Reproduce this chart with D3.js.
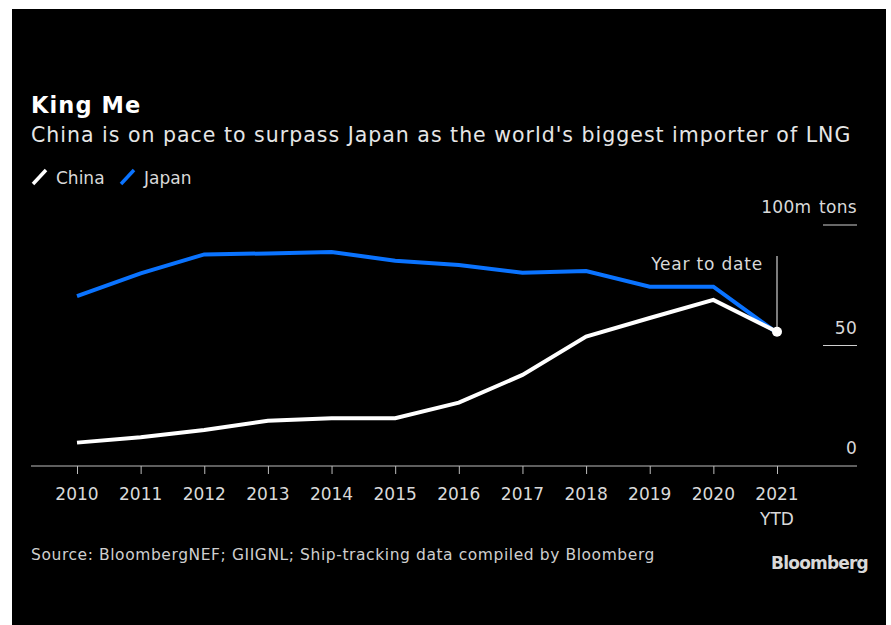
<!DOCTYPE html>
<html>
<head>
<meta charset="utf-8">
<script src="https://cdn.jsdelivr.net/npm/d3@7"></script>
<style>
  body { margin: 0; background: #fff; }
  text { font-family: "DejaVu Sans", sans-serif; }
</style>
</head>
<body>
<div id="chart"></div>
<script>
// Data (100m tons = 100 on the axis, values in m tons)
var years = ['2010', '2011', '2012', '2013', '2014', '2015', '2016', '2017', '2018', '2019', '2020', '2021'];
var yearLabels = ['2010', '2011', '2012', '2013', '2014', '2015', '2016', '2017', '2018', '2019', '2020', '2021\nYTD'];
var chinaValues = [9.7, 11.9, 14.9, 18.8, 19.8, 19.8, 26.3, 37.8, 53.7, 61.4, 68.9, 55.7];
var japanValues = [70.5, 79.9, 87.8, 88.2, 88.8, 85.2, 83.4, 80.2, 80.9, 74.4, 74.4, 55.2];
var yTicks = [0, 50, 100];
var yTickLabels = ['0', '50', '100m tons'];

var W = 891, H = 625;

var svg = d3.select('#chart')
  .append('svg')
  .attr('width', W)
  .attr('height', H);

// black panel
svg.append('rect')
  .attr('x', 12).attr('y', 9)
  .attr('width', 874).attr('height', H - 9)
  .style('fill', '#000');

// scales
var x = d3.scalePoint()
  .domain(years)
  .range([77, 777]);

var y = d3.scaleLinear()
  .domain([0, 100])
  .range([466, 225]);

// Titles
svg.append('text')
  .attr('x', 31).attr('y', 113)
  .style('font-size', '22.5px')
  .style('font-weight', 'bold')
  .style('letter-spacing', '1.1px')
  .style('fill', '#fff')
  .text('King Me');

svg.append('text')
  .attr('x', 31).attr('y', 142)
  .style('font-size', '20.5px')
  .style('letter-spacing', '1px')
  .style('fill', '#e6e6e6')
  .text("China is on pace to surpass Japan as the world's biggest importer of LNG");

// Legend
var legend = [
  { name: 'China', color: '#ffffff', x: 33 },
  { name: 'Japan', color: '#0a73ff', x: 121 }
];
var lg = svg.selectAll('.legend')
  .data(legend)
  .enter()
  .append('g')
  .attr('class', 'legend');
lg.append('line')
  .attr('x1', function (d) { return d.x; })
  .attr('y1', 184)
  .attr('x2', function (d) { return d.x + 13; })
  .attr('y2', 170)
  .attr('stroke-width', 3.5)
  .style('stroke', function (d) { return d.color; });
lg.append('text')
  .attr('x', function (d) { return d.x + 23; })
  .attr('y', 184)
  .style('font-size', '17px')
  .style('fill', '#d9d9d9')
  .text(function (d) { return d.name; });

// Y grid segments and labels on the right
svg.selectAll('.ygrid')
  .data(yTicks.filter(function (d) { return d > 0; }))
  .enter()
  .append('line')
  .attr('class', 'ygrid')
  .attr('x1', 823).attr('x2', 857)
  .attr('y1', function (d) { return y(d); })
  .attr('y2', function (d) { return y(d); })
  .style('stroke', '#cfcfcf')
  .attr('stroke-width', 1);

svg.selectAll('.ylabel')
  .data(yTicks)
  .enter()
  .append('text')
  .attr('class', 'ylabel')
  .attr('x', 857)
  .attr('y', function (d) { return y(d) - 12; })
  .attr('text-anchor', 'end')
  .style('font-size', '17px')
  .style('word-spacing', '2px')
  .style('letter-spacing', '0.3px')
  .style('fill', '#d9d9d9')
  .text(function (d, i) { return yTickLabels[i]; });

// X axis
var xAxis = d3.axisBottom(x)
  .tickSize(8)
  .tickFormat('');
var gx = svg.append('g')
  .attr('transform', 'translate(0,' + y(0) + ')')
  .call(xAxis);
gx.select('.domain').remove();
gx.selectAll('.tick line').style('stroke', '#bdbdbd');
gx.insert('line', ':first-child')
  .attr('x1', 31).attr('x2', 857)
  .attr('y1', 0).attr('y2', 0)
  .style('stroke', '#bdbdbd');

var xl = svg.selectAll('.xlabel')
  .data(years)
  .enter()
  .append('text')
  .attr('class', 'xlabel')
  .attr('x', function (d) { return x(d); })
  .attr('y', 500)
  .attr('text-anchor', 'middle')
  .style('font-size', '17px')
  .style('fill', '#d9d9d9');
xl.selectAll('tspan')
  .data(function (d, i) { return yearLabels[i].split('\n'); })
  .enter()
  .append('tspan')
  .attr('x', function () { return x(d3.select(this.parentNode).datum()); })
  .attr('dy', function (d, i) { return i === 0 ? 0 : 25; })
  .text(function (d) { return d; });

// Lines
var line = d3.line()
  .x(function (d, i) { return x(years[i]); })
  .y(function (d) { return y(d); });

svg.append('path')
  .datum(japanValues)
  .attr('d', line)
  .style('fill', 'none')
  .style('stroke', '#0a73ff')
  .attr('stroke-width', 4);

svg.append('path')
  .datum(chinaValues)
  .attr('d', line)
  .style('fill', 'none')
  .style('stroke', '#ffffff')
  .attr('stroke-width', 4);

// Year to date annotation
var last = years.length - 1;
svg.append('line')
  .attr('x1', x(years[last])).attr('x2', x(years[last]))
  .attr('y1', 256)
  .attr('y2', y(chinaValues[last]))
  .style('stroke', '#d0d0d0')
  .attr('stroke-width', 1.2);

svg.append('circle')
  .attr('cx', x(years[last]))
  .attr('cy', y(chinaValues[last]))
  .attr('r', 5)
  .style('fill', '#fff');

svg.append('text')
  .attr('x', x(years[last]) - 14)
  .attr('y', 270)
  .attr('text-anchor', 'end')
  .style('font-size', '17px')
  .style('letter-spacing', '0.8px')
  .style('fill', '#d9d9d9')
  .text('Year to date');

// Footer
svg.append('text')
  .attr('x', 31).attr('y', 560)
  .style('font-size', '15.5px')
  .style('letter-spacing', '0.58px')
  .style('fill', '#cfcfcf')
  .text('Source: BloombergNEF; GIIGNL; Ship-tracking data compiled by Bloomberg');

svg.append('text')
  .attr('x', 868).attr('y', 569)
  .attr('text-anchor', 'end')
  .style('font-size', '17px')
  .style('font-weight', 'bold')
  .style('letter-spacing', '-0.8px')
  .style('fill', '#d9d9d9')
  .text('Bloomberg');
</script>
</body>
</html>
